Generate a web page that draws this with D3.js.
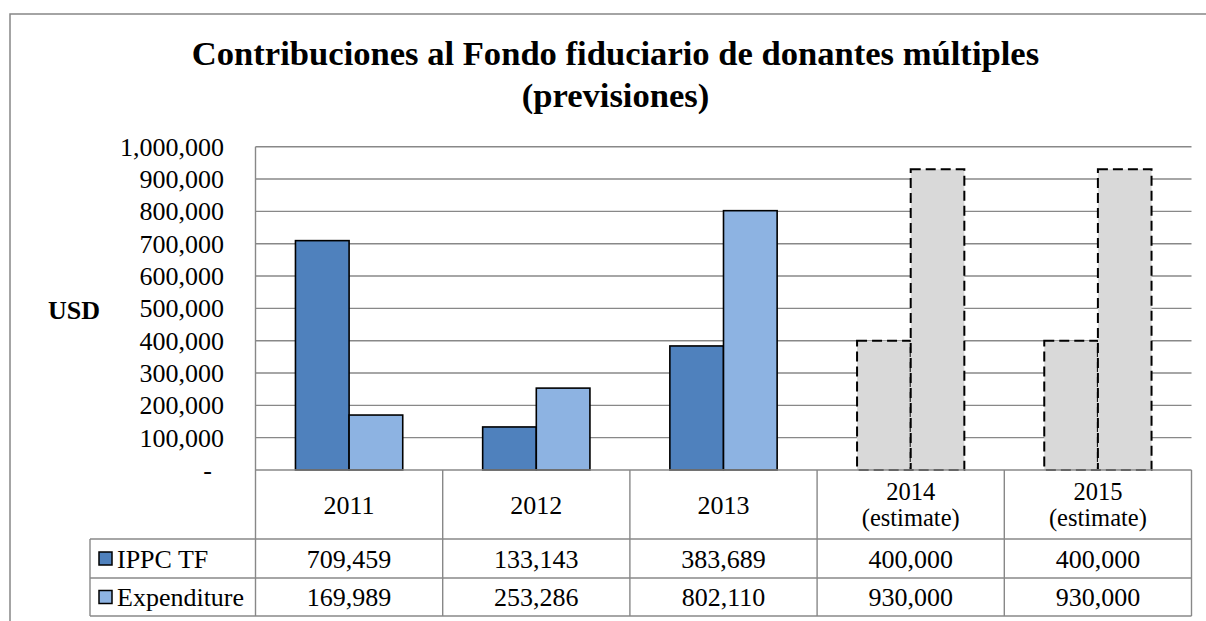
<!DOCTYPE html>
<html>
<head>
<meta charset="utf-8">
<script src="https://cdn.jsdelivr.net/npm/d3@7"></script>
<style>
  body { margin: 0; background: #fff; }
</style>
</head>
<body>
<script>
// datos del grafico
const categories = ['2011', '2012', '2013', '2014', '2015'];
const catLines = [['2011'], ['2012'], ['2013'], ['2014', '(estimate)'], ['2015', '(estimate)']];
const estimated = [false, false, false, true, true];
const seriesNames = ['IPPC TF', 'Expenditure'];
const ippc = [709459, 133143, 383689, 400000, 400000];
const expenditure = [169989, 253286, 802110, 930000, 930000];
const yTicks = [0, 100000, 200000, 300000, 400000, 500000, 600000, 700000, 800000, 900000, 1000000];

const colors = { 'IPPC TF': '#4f81bd', 'Expenditure': '#8db3e2' };
const gridColor = '#888888';
const serif = "'Liberation Serif', 'Times New Roman', serif";

const W = 1206, H = 621;
const plotL = 255.5, plotR = 1191.5, plotT = 146.7, plotB = 470;
const rows = [470, 539, 578, 616];
const legendL = 90;

const svg = d3.select('body').append('svg')
  .attr('width', W)
  .attr('height', H)
  .attr('font-family', serif);

// marco exterior
svg.append('rect')
  .attr('x', 10).attr('y', 14)
  .attr('width', 1230).attr('height', 700)
  .attr('fill', 'none')
  .attr('stroke', '#878787')
  .attr('stroke-width', 1.5);

// titulo
const title = svg.append('text')
  .attr('text-anchor', 'middle')
  .attr('font-weight', 'bold')
  .attr('font-size', 34.6);
title.append('tspan').attr('x', 615.5).attr('y', 65)
  .text('Contribuciones al Fondo fiduciario de donantes múltiples');
title.append('tspan').attr('x', 615.5).attr('y', 107)
  .text('(previsiones)');

const x0 = d3.scaleBand().domain(categories).range([plotL, plotR]).padding(0);
const x1 = d3.scaleBand().domain(seriesNames).range([0, x0.bandwidth()])
  .paddingInner(0).paddingOuter(0.745);
const y = d3.scaleLinear().domain([0, 1000000]).range([plotB, plotT]);

// lineas de cuadricula
svg.append('g').selectAll('line')
  .data(yTicks.slice(1))
  .enter().append('line')
  .attr('x1', plotL).attr('x2', plotR)
  .attr('y1', d => y(d)).attr('y2', d => y(d))
  .attr('stroke', gridColor)
  .attr('stroke-width', 1.4);

// etiquetas del eje y
const fmt = d3.format(',');
svg.append('g').selectAll('text')
  .data(yTicks)
  .enter().append('text')
  .attr('x', d => d === 0 ? 212 : 224)
  .attr('y', d => y(d))
  .attr('dy', '0.35em')
  .attr('text-anchor', 'end')
  .attr('font-size', 26)
  .text(d => d === 0 ? '-' : fmt(d));

svg.append('text')
  .attr('x', 48).attr('y', 319)
  .attr('font-weight', 'bold')
  .attr('font-size', 26)
  .text('USD');

// barras
const barData = [];
categories.forEach((c, i) => {
  barData.push({ cat: c, s: 'IPPC TF', v: ippc[i], est: estimated[i] });
  barData.push({ cat: c, s: 'Expenditure', v: expenditure[i], est: estimated[i] });
});

svg.append('g').selectAll('rect')
  .data(barData)
  .enter().append('rect')
  .attr('x', d => x0(d.cat) + x1(d.s))
  .attr('y', d => y(d.v))
  .attr('width', x1.bandwidth())
  .attr('height', d => y(0) - y(d.v))
  .attr('fill', d => d.est ? '#d9d9d9' : colors[d.s])
  .attr('stroke', '#000')
  .attr('stroke-width', d => d.est ? 2 : 1.6)
  .attr('stroke-dasharray', d => d.est ? '10,5' : null);

// tabla de datos
const t = svg.append('g').attr('stroke', gridColor).attr('stroke-width', 1.4);
t.append('line').attr('x1', plotL).attr('x2', plotR).attr('y1', rows[0]).attr('y2', rows[0]);
rows.slice(1).forEach(r => {
  t.append('line').attr('x1', legendL).attr('x2', plotR).attr('y1', r).attr('y2', r);
});
t.append('line').attr('x1', plotL).attr('x2', plotL).attr('y1', plotT).attr('y2', rows[3]);
t.append('line').attr('x1', legendL).attr('x2', legendL).attr('y1', rows[1]).attr('y2', rows[3]);
categories.forEach(c => {
  const xe = x0(c) + x0.bandwidth();
  t.append('line').attr('x1', xe).attr('x2', xe).attr('y1', rows[0]).attr('y2', rows[3]);
});

// categorias
const cat = svg.append('g').selectAll('text')
  .data(categories)
  .enter().append('text')
  .attr('text-anchor', 'middle')
  .attr('font-size', (c, i) => catLines[i].length > 1 ? 24.5 : 26);
cat.each(function(c, i) {
  const lines = catLines[i];
  const el = d3.select(this);
  const cx = x0(c) + x0.bandwidth() / 2;
  const mid = (rows[0] + rows[1]) / 2;
  lines.forEach((l, k) => {
    el.append('tspan')
      .attr('x', cx)
      .attr('y', mid + (k - (lines.length - 1) / 2) * 26)
      .attr('dy', '0.35em')
      .text(l);
  });
});

// valores y leyenda
const seriesValues = [ippc, expenditure];
seriesNames.forEach((s, j) => {
  const mid = (rows[j + 1] + rows[j + 2]) / 2;
  svg.append('rect')
    .attr('x', 99).attr('y', mid - 6.5)
    .attr('width', 13).attr('height', 13)
    .attr('fill', colors[s])
    .attr('stroke', '#000')
    .attr('stroke-width', 1.5);
  svg.append('text')
    .attr('x', 117).attr('y', mid)
    .attr('dy', '0.35em')
    .attr('font-size', 26)
    .text(s);
  svg.append('g').selectAll('text')
    .data(seriesValues[j])
    .enter().append('text')
    .attr('x', (d, i) => x0(categories[i]) + x0.bandwidth() / 2)
    .attr('y', mid)
    .attr('dy', '0.35em')
    .attr('text-anchor', 'middle')
    .attr('font-size', 26)
    .text(d => fmt(d));
});
</script>
</body>
</html>
